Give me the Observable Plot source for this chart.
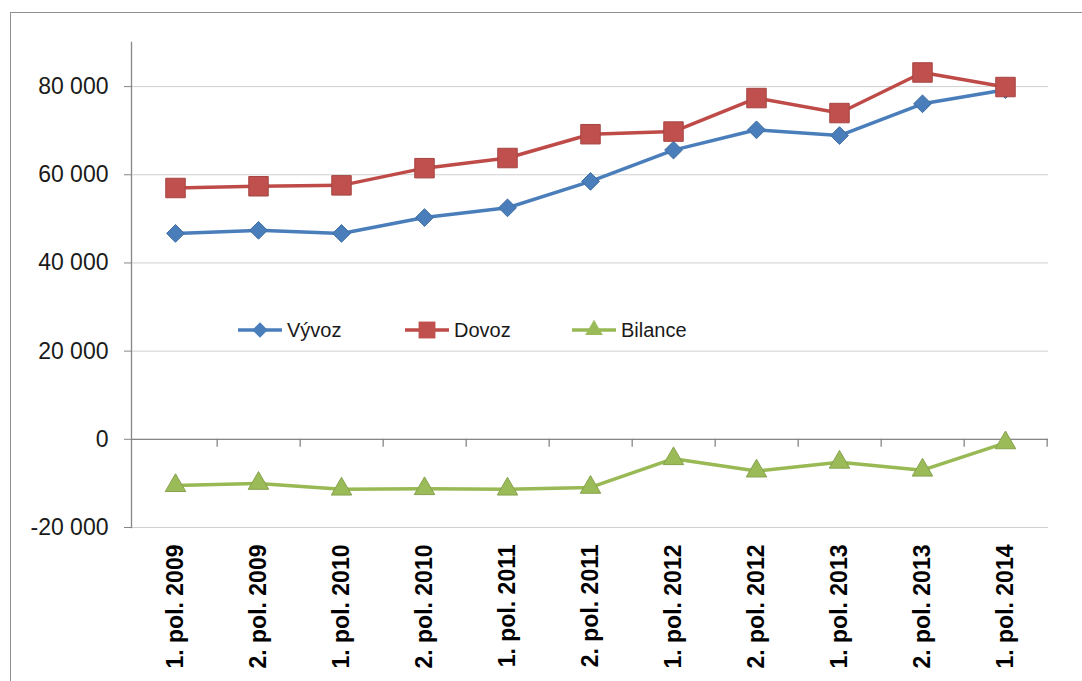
<!DOCTYPE html>
<html>
<head>
<meta charset="utf-8">
<script src="https://cdn.jsdelivr.net/npm/d3@7"></script>
<script src="https://cdn.jsdelivr.net/npm/@observablehq/plot@0.6"></script>
<style>
  html, body { margin: 0; padding: 0; background: #fff; }
  body { width: 1082px; height: 681px; overflow: hidden; position: relative; font-family: "Liberation Sans", Arial, sans-serif; }
  #box { position: absolute; left: 10px; top: 12px; width: 1100px; height: 700px; border: 1.5px solid #8f8f8f; box-sizing: border-box; }
  #chart { position: absolute; left: 0; top: 0; }
  #legend { position: absolute; top: 318px; left: 237px; display: flex; font-size: 20px; color: #1a1a1a; }
  .item { width: 167px; display: flex; align-items: center; height: 24px; }
  .item svg { margin-right: 4px; }
</style>
</head>
<body>
<div id="box"></div>
<div id="chart"></div>
<div id="legend"></div>
<script>
const categories = ["1. pol. 2009","2. pol. 2009","1. pol. 2010","2. pol. 2010","1. pol. 2011","2. pol. 2011","1. pol. 2012","2. pol. 2012","1. pol. 2013","2. pol. 2013","1. pol. 2014"];
const vyvoz   = [46700, 47400, 46700, 50300, 52500, 58500, 65600, 70200, 68900, 76100, 79300];
const dovoz   = [57000, 57400, 57600, 61500, 63800, 69200, 69800, 77400, 74000, 83200, 79900];
const bilance = [-10500, -10000, -11300, -11200, -11300, -10900, -4400, -7200, -5200, -7000, -800];
const yTicks  = [-20000, 0, 20000, 40000, 60000, 80000];
const seriesNames = ["Vývoz", "Dovoz", "Bilance"];

const colors  = {"Vývoz": "#4a7ebb", "Dovoz": "#c0504d", "Bilance": "#9bbb59"};
const lineColors = {"Vývoz": "#4a7ebb", "Dovoz": "#be4b48", "Bilance": "#98b954"};
const symbols = {"Vývoz": "diamond2", "Dovoz": "square", "Bilance": "triangle"};
const radii   = {"Vývoz": 8, "Dovoz": 11, "Bilance": 7.6};

const values = {"Vývoz": vyvoz, "Dovoz": dovoz, "Bilance": bilance};
const rows = seriesNames.flatMap(s => categories.map((c, i) => ({series: s, cat: c, value: values[s][i]})));

const W = 1082, H = 681, ML = 131, MR = 34, MT = 42, MB = 154;
const step = (W - ML - MR) / categories.length;
const fmt = d => d3.format(",")(d).replace(/,/g, " ").replace("−", "-");

const seriesMarks = seriesNames.flatMap(s => {
  const data = rows.filter(r => r.series === s);
  return [
    Plot.line(data, {x: "cat", y: "value", stroke: lineColors[s], strokeWidth: 3.5}),
    Plot.dot(data, {x: "cat", y: "value", symbol: symbols[s], r: radii[s], fill: colors[s], stroke: d3.color(colors[s]).darker(0.4).formatHex(), strokeWidth: 1})
  ];
});

const plot = Plot.plot({
  width: W, height: H,
  marginLeft: ML, marginRight: MR, marginTop: MT, marginBottom: MB,
  style: {fontFamily: "'Liberation Sans', Arial, sans-serif", background: "transparent", overflow: "visible"},
  x: {type: "point", domain: categories, padding: 0.5, label: null},
  y: {domain: [-20000, 90000], label: null},
  marks: [
    Plot.gridY(yTicks, {stroke: "#d0d0d0", strokeOpacity: 1}),
    Plot.ruleY([0], {stroke: "#868686", strokeWidth: 1.3}),
    Plot.ruleX(categories, {x: d => d, y1: 0, y2: 0, insetBottom: -8, dx: step / 2, stroke: "#868686", strokeWidth: 1.3}),
    Plot.frame({anchor: "left", stroke: "#868686", strokeWidth: 1.3}),
    Plot.axisY(yTicks, {tickSize: 7, tickPadding: 16, tickFormat: fmt, fontSize: 23, stroke: "#868686", fill: "#1a1a1a", label: null}),
    Plot.axisX({tickSize: 0, tickRotate: -90, tickPadding: 17, fontSize: 23, fontWeight: "bold", fill: "#000", label: null}),
    ...seriesMarks
  ]
});
document.getElementById("chart").appendChild(plot);

// Legend
const legend = document.getElementById("legend");
const sym = {"diamond2": d3.symbolDiamond2, "square": d3.symbolSquare, "triangle": d3.symbolTriangle};
for (const s of seriesNames) {
  const item = document.createElement("div");
  item.className = "item";
  const path = d3.symbol(sym[symbols[s]], Math.PI * radii[s] * radii[s] * 0.75)();
  item.innerHTML = `<svg width="46" height="22" viewBox="0 0 46 22">
    <line x1="1" x2="45" y1="11" y2="11" stroke="${lineColors[s]}" stroke-width="3.5"/>
    <path transform="translate(23,11)" d="${path}" fill="${colors[s]}"/>
  </svg><span>${s}</span>`;
  legend.appendChild(item);
}
</script>
</body>
</html>
